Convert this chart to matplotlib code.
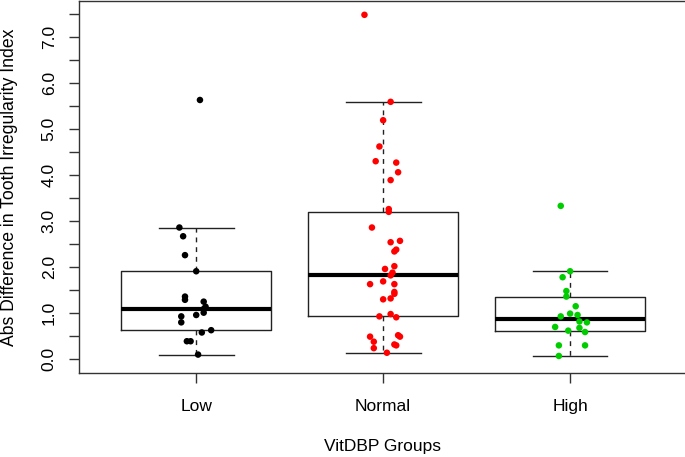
import matplotlib
matplotlib.use("Agg")
import matplotlib.pyplot as plt
import numpy as np

plt.rcParams['font.family'] = ['Liberation Sans', 'DejaVu Sans']

categories = ["Low", "Normal", "High"]
point_colors = ["#000000", "#FF0000", "#00CD00"]

low_values = [5.63, 2.86, 2.67, 2.26, 1.91, 1.36, 1.29, 1.25, 1.14, 1.09, 1.01,
              0.96, 0.93, 0.80, 0.63, 0.58, 0.39, 0.39, 0.10]
low_jitter = [0.02, -0.09, -0.07, -0.06, 0.0, -0.06, -0.06, 0.04, 0.05, 0.04, 0.04,
              0.0, -0.08, -0.08, 0.08, 0.03, -0.05, -0.03, 0.01]

normal_values = [7.48, 5.59, 5.19, 4.62, 4.30, 4.27, 4.06, 3.89, 3.26, 3.20, 2.86,
                 2.54, 2.57, 2.38, 2.34, 2.02, 1.96, 1.88, 1.82, 1.63, 1.69, 1.63,
                 1.46, 1.42, 1.30, 1.32, 0.98, 0.93, 0.91, 0.49, 0.52, 0.49, 0.38,
                 0.24, 0.32, 0.30, 0.14]
normal_jitter = [-0.10, 0.04, 0.0, -0.02, -0.04, 0.07, 0.08, 0.04, 0.03, 0.03, -0.06,
                 0.04, 0.09, 0.07, 0.06, 0.06, 0.01, 0.05, 0.04, -0.07, 0.0, 0.06,
                 0.06, 0.06, 0.0, 0.04, 0.04, -0.02, 0.07, -0.07, 0.08, 0.09, -0.05,
                 -0.05, 0.06, 0.07, 0.02]

high_values = [3.33, 1.91, 1.78, 1.48, 1.36, 1.15, 0.99, 0.96, 0.93, 0.82, 0.80,
               0.70, 0.68, 0.62, 0.59, 0.30, 0.30, 0.07]
high_jitter = [-0.05, 0.0, -0.04, -0.02, -0.02, 0.03, 0.0, 0.04, -0.05, 0.05, 0.09,
               -0.08, 0.05, -0.01, 0.08, -0.06, 0.08, -0.06]

box_whislo = [0.10, 0.14, 0.07]
box_q1 = [0.63, 0.93, 0.62]
box_med = [1.09, 1.83, 0.87]
box_q3 = [1.91, 3.20, 1.36]
box_whishi = [2.86, 5.59, 1.91]

y_ticks = [i * 0.5 for i in range(16)]
y_labels = [f"{t:.1f}" if t == int(t) else "" for t in y_ticks]

fig = plt.figure(figsize=(6.85, 4.57), dpi=100)
ax = fig.add_axes([79 / 685, 1 - 373 / 457, 1 - 79 / 685 + 0.002, (373 - 1) / 457])

stats = []
for i, c in enumerate(categories):
    stats.append(dict(label=c, med=box_med[i], q1=box_q1[i], q3=box_q3[i],
                      whislo=box_whislo[i], whishi=box_whishi[i], fliers=[]))
positions = np.arange(1, len(categories) + 1)
ax.bxp(stats, positions=positions, widths=0.8, showfliers=False,
       boxprops=dict(color="#222222", linewidth=1.0),
       medianprops=dict(color="black", linewidth=3.0, solid_capstyle="butt"),
       whiskerprops=dict(color="#222222", linewidth=1.0, linestyle=(0, (3.5, 3.5))),
       capprops=dict(color="#222222", linewidth=1.0), capwidths=0.4)

groups = [(low_values, low_jitter), (normal_values, normal_jitter), (high_values, high_jitter)]
for i, (vals, jit) in enumerate(groups):
    xs = positions[i] + np.array(jit)
    ax.scatter(xs, vals, s=22, color=point_colors[i], edgecolors="none", zorder=3)

ax.set_xlim(0.373, 3.622)
ax.set_ylim(-0.30, 7.78)
ax.set_yticks(y_ticks)
ax.set_yticklabels(y_labels, rotation=90, va="center", fontsize=12.5)
ax.set_xticks(positions)
ax.set_xticklabels(categories, fontsize=12.5)
ax.tick_params(axis="y", length=7, width=1, color="#333333", pad=9)
ax.tick_params(axis="x", length=7, width=1, color="#333333", pad=12)
for sp in ax.spines.values():
    sp.set_color("#333333")
    sp.set_linewidth(1.0)
ax.set_ylabel("Abs Difference in Tooth Irregularity Index", fontsize=12.7, labelpad=17)
ax.set_xlabel("VitDBP Groups", fontsize=12.5, labelpad=18)

fig.savefig("out.png", dpi=100)
